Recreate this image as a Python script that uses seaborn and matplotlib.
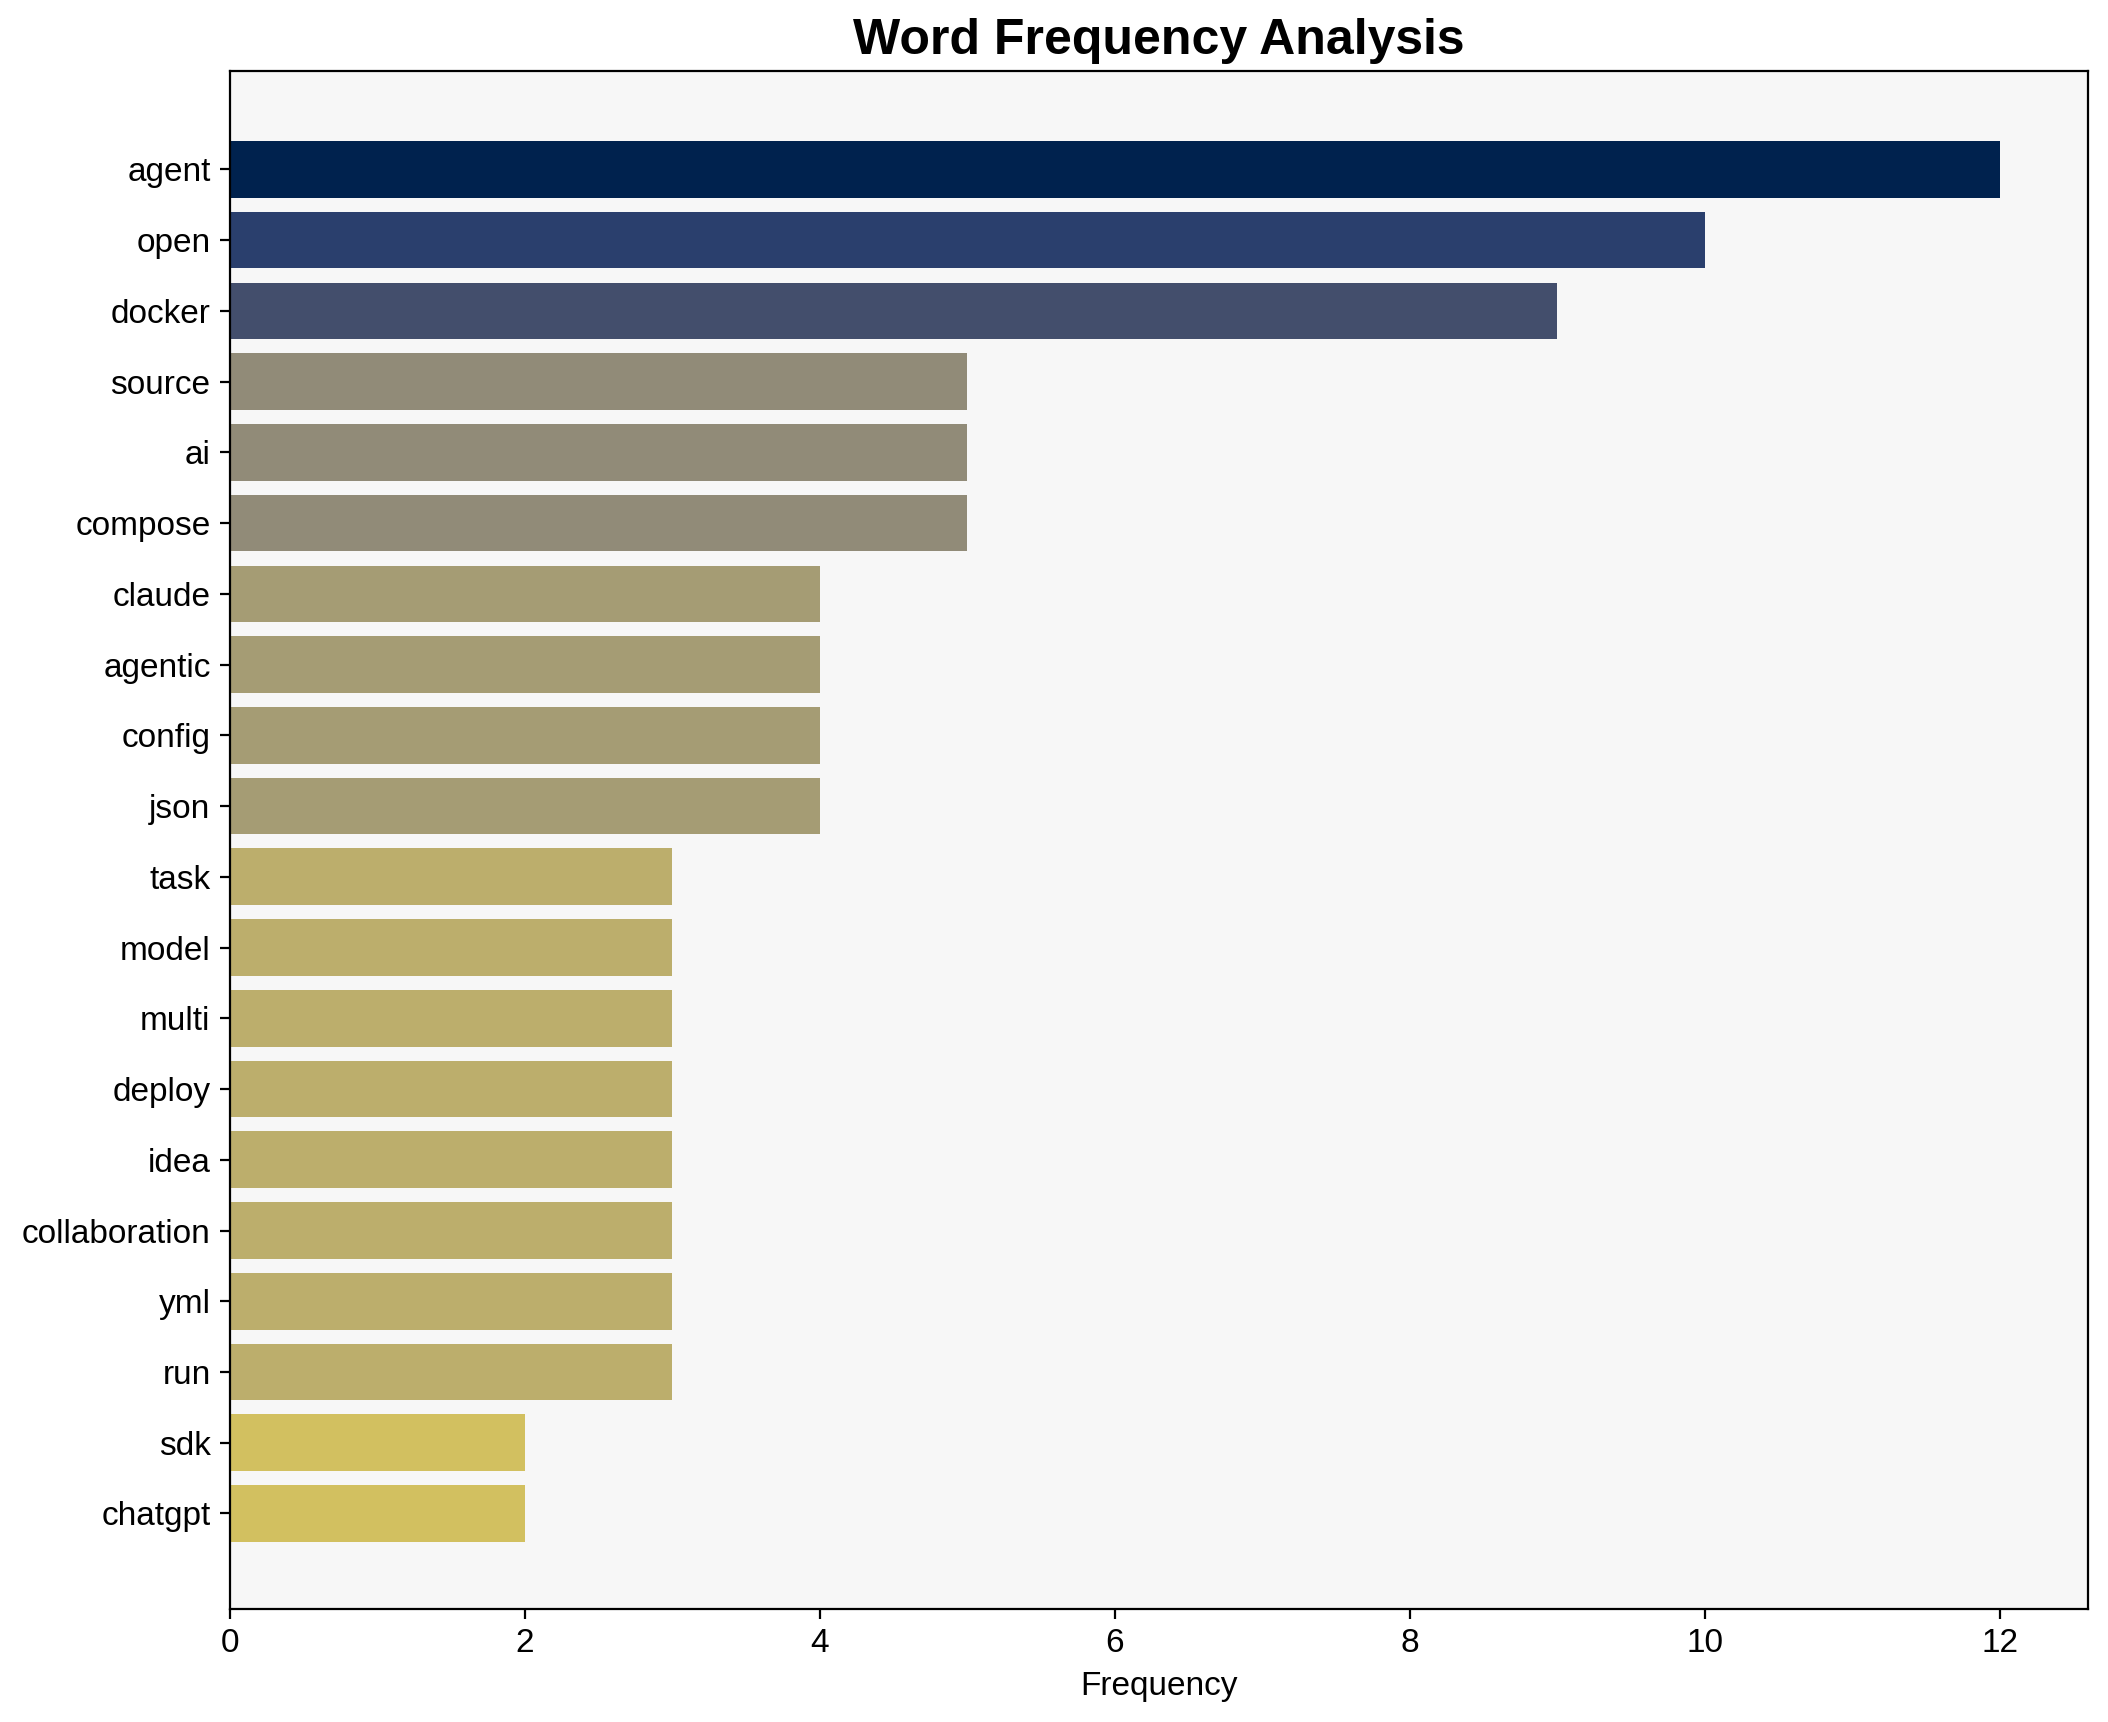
import matplotlib
matplotlib.use("Agg", force=True)
import matplotlib.pyplot as plt
import numpy as np
import pandas as pd
import seaborn as sns

WORDS = ["agent", "open", "docker", "source", "ai", "compose", "claude", "agentic",
         "config", "json", "task", "model", "multi", "deploy", "idea", "collaboration",
         "yml", "run", "sdk", "chatgpt"]
COUNTS = [12, 10, 9, 5, 5, 5, 4, 4, 4, 4, 3, 3, 3, 3, 3, 3, 3, 3, 2, 2]


def main() -> None:
    sns.set_style("white")
    plt.rcParams["font.family"] = ["Liberation Sans", "DejaVu Sans"]
    plt.rcParams["text.color"] = "black"
    plt.rcParams["axes.labelcolor"] = "black"
    plt.rcParams["xtick.color"] = "black"
    plt.rcParams["ytick.color"] = "black"

    df = pd.DataFrame({"word": WORDS, "count": COUNTS})
    vals = np.array(COUNTS, dtype=float)
    colors = plt.cm.cividis(1 - vals / vals.max())
    palette = {w: c for w, c in zip(WORDS, colors)}

    dpi = 200
    fig = plt.figure(figsize=(2108 / dpi, 1722 / dpi), dpi=dpi)
    ax = fig.add_axes([230 / 2108, 1 - 1609 / 1722, (2088 - 230) / 2108, (1609 - 71) / 1722])
    sns.barplot(data=df, x="count", y="word", hue="word", palette=palette,
                legend=False, width=0.8, orient="h", ax=ax, saturation=1,
                linewidth=0)

    ax.set_facecolor("#F7F7F7")
    for s in ax.spines.values():
        s.set_visible(True)
        s.set_color("black")
        s.set_linewidth(0.8)
    ax.set_xlim(0, 12.6)
    ax.set_ylim(len(WORDS) - 1 + 1.35, -1.39)
    ax.set_xticks([0, 2, 4, 6, 8, 10, 12])
    ax.tick_params(axis="both", labelsize=12, length=3.5, width=0.8, color="black",
                   labelcolor="black", bottom=True, left=True)
    ax.set_xlabel("Frequency", fontsize=12, color="black")
    ax.set_ylabel("")
    ax.set_title("Word Frequency Analysis", fontsize=18, fontweight="bold",
                 color="black", pad=6)

    fig.savefig("out.png", dpi=dpi)
    plt.close(fig)


if __name__ == "__main__":
    main()
